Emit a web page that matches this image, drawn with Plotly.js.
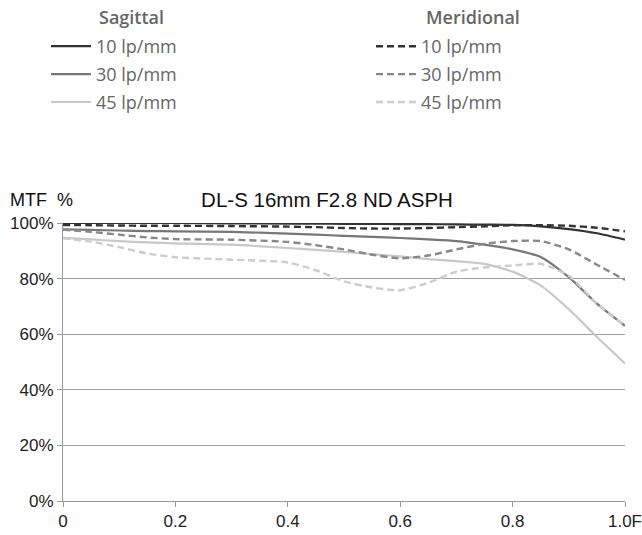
<!DOCTYPE html>
<html>
<head>
<meta charset="utf-8">
<script src="https://cdn.plot.ly/plotly-3.0.1.min.js"></script>
<style>html,body{margin:0;padding:0;background:#fff;}#chart{width:642px;height:535px;}</style>
</head>
<body>
<div id="chart"></div>
<script>
// Image height (fraction of 1.0F)
const imageHeight = [0, 0.05, 0.1, 0.15, 0.2, 0.3, 0.4, 0.45, 0.5, 0.55, 0.6, 0.65, 0.7, 0.75, 0.8, 0.85, 0.9, 0.95, 1.0];

// MTF values (%)
const sag10 = [100, 100, 100, 100, 100, 99.9, 99.8, 99.8, 99.7, 99.7, 99.6, 99.6, 99.5, 99.4, 99.3, 98.8, 97.8, 96.3, 94];
const sag30 = [97.7, 97.5, 97.3, 97.1, 97, 96.8, 96.2, 95.8, 95.4, 95.0, 94.6, 94.1, 93.5, 92.2, 90.5, 87.8, 80.5, 71, 63];
const sag45 = [94.7, 94.1, 93.5, 93, 92.7, 92.2, 91, 90.3, 89.6, 88.8, 88, 87, 86.3, 85.3, 82.5, 77.5, 69, 59, 49.5];
const mer10 = [99.3, 99.2, 99.1, 99.0, 99.0, 98.9, 98.7, 98.5, 98.2, 98.0, 98.0, 98.2, 98.5, 98.8, 99.2, 99.2, 99.0, 98.3, 97];
const mer30 = [97.6, 96.8, 95.8, 94.8, 94.2, 94, 93.2, 92, 90.5, 88.6, 87.3, 88.3, 90.5, 92.5, 93.5, 93.5, 90.5, 85, 79.5];
const mer45 = [94.5, 93.3, 91.3, 89, 87.7, 86.8, 85.8, 83, 79, 76.8, 75.8, 78.5, 82.5, 84, 84.7, 85.3, 81, 71, 63];

const seriesNames = ["10 lp/mm", "30 lp/mm", "45 lp/mm"];
const xTickVals = [0, 0.2, 0.4, 0.6, 0.8, 1.0];
const xTickText = ["0", "0.2", "0.4", "0.6", "0.8", "1.0F"];
const yTickVals = [0, 20, 40, 60, 80, 100];
const yTickText = ["0%", "20%", "40%", "60%", "80%", "100%"];

const sagColors = ["#333333", "#777777", "#c8c8c8"];
const merColors = ["#333333", "#888888", "#cccccc"];

const sagData = [sag10, sag30, sag45];
const merData = [mer10, mer30, mer45];

const traces = [];
sagData.forEach((ys, i) => {
  traces.push({
    x: imageHeight, y: ys, type: "scatter", mode: "lines",
    name: seriesNames[i], legend: "legend", legendgroup: "s" + i,
    line: {color: sagColors[i], width: 2.2, shape: "spline", smoothing: 0.6},
    cliponaxis: false, hoverinfo: "skip"
  });
});
merData.forEach((ys, i) => {
  traces.push({
    x: imageHeight, y: ys, type: "scatter", mode: "lines",
    name: seriesNames[i], legend: "legend2", legendgroup: "m" + i,
    line: {color: merColors[i], width: 2.4, dash: "7px,4px", shape: "spline", smoothing: 0.6},
    cliponaxis: false, hoverinfo: "skip"
  });
});

const legendFont = {family: "Open Sans, sans-serif", size: 18, color: "#666666"};

const layout = {
  width: 642, height: 535,
  margin: {l: 63, r: 17, t: 223, b: 34, autoexpand: false},
  paper_bgcolor: "#ffffff", plot_bgcolor: "#ffffff",
  font: {family: "Liberation Sans, Arial, sans-serif", color: "#222222"},
  title: {
    text: "DL-S 16mm F2.8 ND ASPH",
    font: {family: "Liberation Sans, Arial, sans-serif", size: 20.5, color: "#111111"},
    xref: "container", x: 327 / 642, xanchor: "center",
    yref: "container", y: 1 - 200 / 535, yanchor: "middle"
  },
  showlegend: true,
  legend: {
    xref: "container", yref: "container",
    x: 46 / 642, y: 1 - 28 / 535, xanchor: "left", yanchor: "top",
    font: legendFont, traceorder: "grouped", tracegroupgap: 1.5, itemwidth: 40,
    bgcolor: "rgba(0,0,0,0)", borderwidth: 0
  },
  legend2: {
    xref: "container", yref: "container",
    x: 371 / 642, y: 1 - 28 / 535, xanchor: "left", yanchor: "top",
    font: legendFont, traceorder: "grouped", tracegroupgap: 1.5, itemwidth: 40,
    bgcolor: "rgba(0,0,0,0)", borderwidth: 0
  },
  xaxis: {
    range: [0, 1], tickvals: xTickVals, ticktext: xTickText,
    showgrid: false, zeroline: false,
    showline: true, linecolor: "#999999", linewidth: 1,
    ticks: "outside", ticklen: 5, tickcolor: "#999999",
    ticklabeloverflow: "allow",
    tickfont: {family: "Liberation Sans, Arial, sans-serif", size: 17, color: "#222222"},
    fixedrange: true, automargin: false
  },
  yaxis: {
    range: [0, 100], tickvals: yTickVals, ticktext: yTickText,
    showgrid: true, gridcolor: "#a0a0a0", gridwidth: 1, zeroline: false,
    showline: true, linecolor: "#999999", linewidth: 1,
    ticks: "outside", ticklen: 5, tickcolor: "#999999",
    tickfont: {family: "Liberation Sans, Arial, sans-serif", size: 17, color: "#222222"},
    fixedrange: true, automargin: false
  },
  annotations: [
    {text: "MTF  %", xref: "paper", yref: "paper", x: 0, y: 1, xanchor: "center", yanchor: "middle",
     xshift: -22, yshift: 23, showarrow: false,
     font: {family: "Liberation Sans, Arial, sans-serif", size: 18, color: "#111111"}},
    {text: "Sagittal", xref: "paper", yref: "paper", x: (97 - 63) / 562, y: (501 - 17) / 278,
     xanchor: "left", yanchor: "middle", showarrow: false,
     font: {family: "Open Sans, sans-serif", size: 18, color: "#666666", weight: 600}},
    {text: "Meridional", xref: "paper", yref: "paper", x: (424 - 63) / 562, y: (501 - 17) / 278,
     xanchor: "left", yanchor: "middle", showarrow: false,
     font: {family: "Open Sans, sans-serif", size: 18, color: "#666666", weight: 600}}
  ]
};

Plotly.newPlot("chart", traces, layout, {displayModeBar: false, staticPlot: true});
</script>
</body>
</html>
